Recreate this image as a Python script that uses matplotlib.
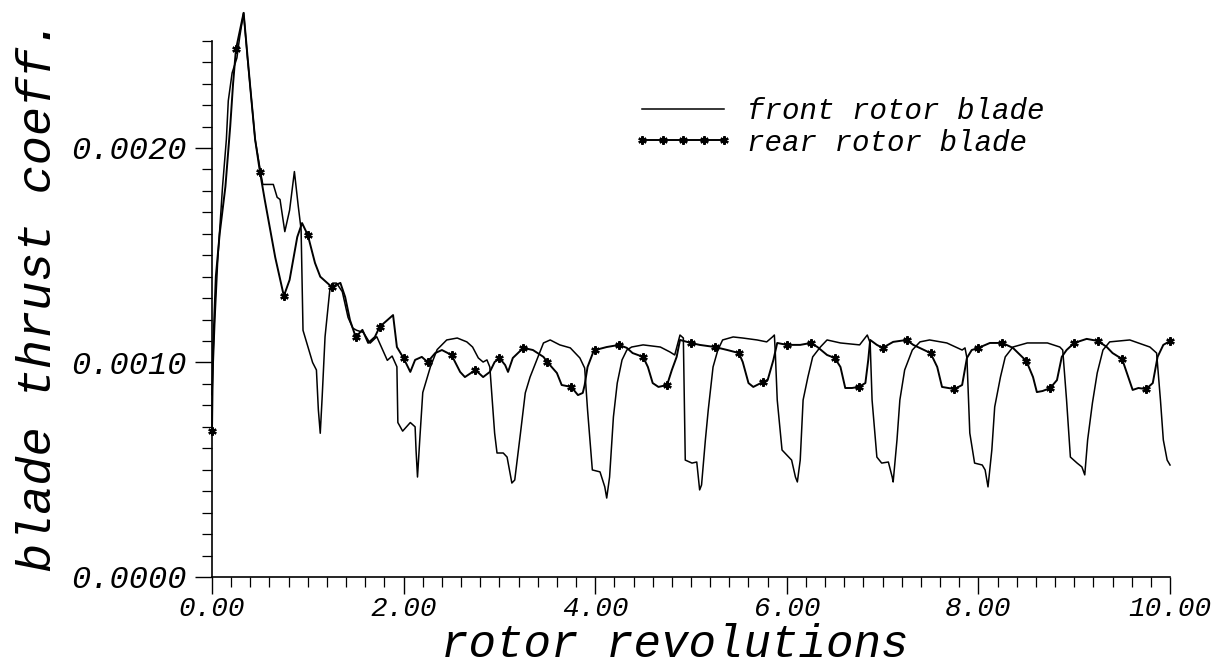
import matplotlib
matplotlib.use("Agg")
import matplotlib.pyplot as plt
from matplotlib.ticker import MultipleLocator, FormatStrFormatter

# front rotor blade thrust coefficient
front_rev = [0.0, 0.03, 0.06, 0.11, 0.15, 0.17, 0.21, 0.26, 0.29, 0.33, 0.37, 0.40, 0.45,
             0.51, 0.53, 0.64, 0.68, 0.71, 0.76, 0.81, 0.86, 0.90, 0.93, 0.95, 0.99, 1.05,
             1.09, 1.11, 1.13, 1.15, 1.18, 1.23, 1.26, 1.30, 1.36, 1.42, 1.47, 1.51, 1.58,
             1.65, 1.72, 1.83, 1.88, 1.93, 1.94, 1.99, 2.07, 2.12, 2.13, 2.145, 2.17, 2.20,
             2.28, 2.35, 2.45, 2.56, 2.66, 2.72, 2.78, 2.83, 2.87, 2.90, 2.92, 2.95, 2.975,
             3.04, 3.08, 3.13, 3.16, 3.22, 3.27, 3.32, 3.39, 3.46, 3.53, 3.63, 3.74, 3.84,
             3.89, 3.92, 3.97, 4.05, 4.10, 4.12, 4.15, 4.19, 4.23, 4.28, 4.33, 4.38, 4.50,
             4.68, 4.78, 4.83, 4.885, 4.92, 4.94, 5.01, 5.06, 5.09, 5.11, 5.15, 5.18, 5.23,
             5.28, 5.33, 5.44, 5.54, 5.69, 5.79, 5.85, 5.87, 5.88, 5.90, 5.95, 5.98, 6.05,
             6.09, 6.11, 6.14, 6.17, 6.22, 6.27, 6.35, 6.42, 6.56, 6.76, 6.84, 6.87, 6.89,
             6.94, 6.99, 7.06, 7.10, 7.11, 7.15, 7.18, 7.23, 7.31, 7.39, 7.49, 7.67, 7.83,
             7.86, 7.88, 7.91, 7.96, 8.04, 8.07, 8.10, 8.14, 8.17, 8.23, 8.28, 8.36, 8.51,
             8.72, 8.85, 8.88, 8.92, 8.96, 9.03, 9.08, 9.11, 9.14, 9.19, 9.24, 9.30, 9.37,
             9.58, 9.79, 9.86, 9.90, 9.93, 9.97, 10.0]
front_ct = [0.00085, 0.00120, 0.00148, 0.00182, 0.00204, 0.00222, 0.00235, 0.00242, 0.00252,
            0.00263, 0.00242, 0.00228, 0.00204, 0.00188, 0.00183, 0.00183, 0.00177, 0.00176,
            0.00161, 0.00171, 0.00189, 0.00173, 0.00162, 0.00115, 0.00109, 0.00100, 0.000965,
            0.00078, 0.00067, 0.00084, 0.00112, 0.00134, 0.00137, 0.00137, 0.00133, 0.00121,
            0.00116, 0.00115, 0.00114, 0.00109, 0.00112, 0.00101, 0.00103, 0.00098, 0.00072,
            0.00068, 0.00072, 0.00070, 0.00059, 0.000466, 0.00065, 0.00086, 0.00098, 0.00106,
            0.001105, 0.001114, 0.001096, 0.001072, 0.001021, 0.001002, 0.001012, 0.000979,
            0.000858, 0.000671, 0.000578, 0.000578, 0.000559, 0.000438, 0.000452, 0.000671,
            0.000858, 0.000932, 0.001012, 0.001091, 0.001105, 0.001082, 0.001068, 0.001021,
            0.000974, 0.000779, 0.000499, 0.000490, 0.000420, 0.000368, 0.000466, 0.000746,
            0.000904, 0.001012, 0.001058, 0.001072, 0.001082, 0.001072, 0.001049, 0.001035,
            0.001128, 0.001114, 0.000545, 0.000531, 0.000536, 0.000406, 0.000429, 0.000639,
            0.000779, 0.000979, 0.001058, 0.001105, 0.001119, 0.001114, 0.001105, 0.001096,
            0.001119, 0.001128, 0.001044, 0.000825, 0.000592, 0.000578, 0.000545, 0.000466,
            0.000443, 0.000545, 0.000825, 0.000932, 0.001026, 0.001072, 0.001105, 0.001091,
            0.001082, 0.001128, 0.001091, 0.000825, 0.000559, 0.000531, 0.000536, 0.000466,
            0.000443, 0.000639, 0.000825, 0.000965, 0.001058, 0.001096, 0.001105, 0.001091,
            0.001058, 0.001068, 0.001021, 0.000671, 0.000531, 0.000522, 0.000499, 0.000420,
            0.000592, 0.000793, 0.000932, 0.001026, 0.001072, 0.001091, 0.001091, 0.001072,
            0.001058, 0.000825, 0.000559, 0.000531, 0.000513, 0.000476, 0.000639, 0.000811,
            0.000951, 0.001058, 0.001096, 0.001105, 0.001072, 0.001044, 0.000825, 0.000639,
            0.000545, 0.000522]

# rear rotor blade thrust coefficient; symbols sit on every quarter revolution
rear_rev = [0.0, 0.01, 0.04, 0.08, 0.14, 0.19, 0.22, 0.25, 0.33, 0.40, 0.45, 0.50, 0.55,
            0.66, 0.75, 0.81, 0.89, 0.94, 1.00, 1.075, 1.13, 1.25, 1.34, 1.39, 1.44, 1.50,
            1.57, 1.63, 1.70, 1.75, 1.89, 1.93, 2.00, 2.07, 2.12, 2.19, 2.25, 2.33, 2.40,
            2.50, 2.59, 2.64, 2.75, 2.83, 2.90, 2.95, 3.00, 3.06, 3.09, 3.14, 3.25, 3.35,
            3.46, 3.50, 3.60, 3.65, 3.75, 3.82, 3.87, 3.89, 3.92, 3.98, 4.00, 4.12, 4.25,
            4.33, 4.39, 4.50, 4.55, 4.60, 4.66, 4.75, 4.80, 4.85, 4.885, 5.00, 5.09, 5.25,
            5.38, 5.50, 5.54, 5.60, 5.65, 5.75, 5.80, 5.86, 5.90, 6.00, 6.14, 6.25, 6.32,
            6.42, 6.50, 6.56, 6.61, 6.68, 6.75, 6.82, 6.85, 6.87, 6.94, 7.00, 7.11, 7.25,
            7.32, 7.50, 7.57, 7.62, 7.75, 7.83, 7.88, 7.93, 8.00, 8.12, 8.25, 8.36, 8.50,
            8.57, 8.61, 8.67, 8.75, 8.82, 8.87, 8.92, 9.00, 9.13, 9.25, 9.34, 9.40, 9.50,
            9.55, 9.61, 9.67, 9.75, 9.82, 9.87, 9.93, 10.00]
rear_ct = [0.00068, 0.00105, 0.00140, 0.00160, 0.00182, 0.00210, 0.00230, 0.00246, 0.00263,
           0.00228, 0.00204, 0.00189, 0.00176, 0.00149, 0.00131, 0.001385, 0.001585, 0.00165,
           0.001594, 0.001464, 0.00140, 0.001352, 0.001371, 0.001305, 0.001198, 0.001119,
           0.001152, 0.001091, 0.001119, 0.001166, 0.001221, 0.001072, 0.00102, 0.000956,
           0.001012, 0.001026, 0.001002, 0.001044, 0.001058, 0.001035, 0.000956, 0.000932,
           0.000965, 0.000932, 0.000956, 0.001002, 0.001021, 0.000988, 0.000956, 0.001021,
           0.001068, 0.001058, 0.001026, 0.001002, 0.000951, 0.000895, 0.000886, 0.000848,
           0.000858, 0.000895, 0.000979, 0.001049, 0.001058, 0.001072, 0.001082, 0.001068,
           0.001044, 0.001026, 0.000979, 0.000904, 0.000886, 0.000895, 0.000965, 0.001026,
           0.001105, 0.001091, 0.001082, 0.001072, 0.001058, 0.001044, 0.001002, 0.000904,
           0.000886, 0.000909, 0.000918, 0.001012, 0.001091, 0.001082, 0.001082, 0.001091,
           0.001072, 0.001035, 0.001021, 0.000979, 0.000881, 0.000881, 0.000886, 0.000904,
           0.001012, 0.001105, 0.001082, 0.001068, 0.001096, 0.001105, 0.001082, 0.001044,
           0.000979, 0.000886, 0.000876, 0.000895, 0.001021, 0.001058, 0.001068, 0.001091,
           0.001091, 0.001068, 0.001007, 0.000932, 0.000862, 0.000867, 0.000881, 0.000918,
           0.001026, 0.001058, 0.001091, 0.001110, 0.001100, 0.001072, 0.001044, 0.001016,
           0.000951, 0.000872, 0.000881, 0.000876, 0.000904, 0.001026, 0.001082, 0.001100]

rear_marks = [i for i, v in enumerate(rear_rev) if abs(v * 4 - round(v * 4)) < 1e-9]

font = dict(family="Liberation Mono", style="italic")

fig = plt.figure(figsize=(12.17, 6.72), dpi=100)
ax = fig.add_axes([0.1742, 0.1414, 0.7872, 0.798])

ax.plot(front_rev, front_ct, color="black", lw=1.1, clip_on=False,
        label="front rotor blade")
ax.plot(rear_rev, rear_ct, color="black", lw=1.4, clip_on=False,
        marker=(6, 2, 0), ms=6, mew=1.6, markevery=rear_marks,
        label="rear rotor blade")

ax.set_xlim(0, 10)
ax.set_ylim(0, 0.0025)

for s in ("top", "right"):
    ax.spines[s].set_visible(False)
for s in ("left", "bottom"):
    ax.spines[s].set_linewidth(1.2)

ax.xaxis.set_major_locator(MultipleLocator(2))
ax.xaxis.set_minor_locator(MultipleLocator(0.2))
ax.yaxis.set_major_locator(MultipleLocator(0.001))
ax.yaxis.set_minor_locator(MultipleLocator(0.0001))
ax.xaxis.set_major_formatter(FormatStrFormatter("%.2f"))
ax.yaxis.set_major_formatter(FormatStrFormatter("%.4f"))
ax.tick_params(which="major", direction="out", length=12, width=1.0)
ax.tick_params(which="minor", direction="out", length=7, width=0.9)
ax.tick_params(axis="x", which="major", pad=2)
ax.tick_params(axis="y", which="major", pad=6)

for lab in ax.get_xticklabels():
    lab.set_fontfamily(font["family"])
    lab.set_fontstyle("italic")
    lab.set_fontsize(20)
for lab in ax.get_yticklabels():
    lab.set_fontfamily(font["family"])
    lab.set_fontstyle("italic")
    lab.set_fontsize(23)

ax.set_xlabel("rotor revolutions", fontsize=33, **font)
ax.xaxis.set_label_coords(0.483, -0.085)
ax.set_ylabel("blade thrust coeff.", fontsize=35, **font)
ax.yaxis.set_label_coords(-0.158, 0.525)

ax.legend(loc="upper left", bbox_to_anchor=(0.44, 0.895), frameon=False,
          prop=dict(family="Liberation Mono", style="italic", size=21),
          handlelength=3.4, handletextpad=0.5, labelspacing=0.12,
          borderpad=0, borderaxespad=0, numpoints=5)

fig.savefig("out.png", dpi=100)
